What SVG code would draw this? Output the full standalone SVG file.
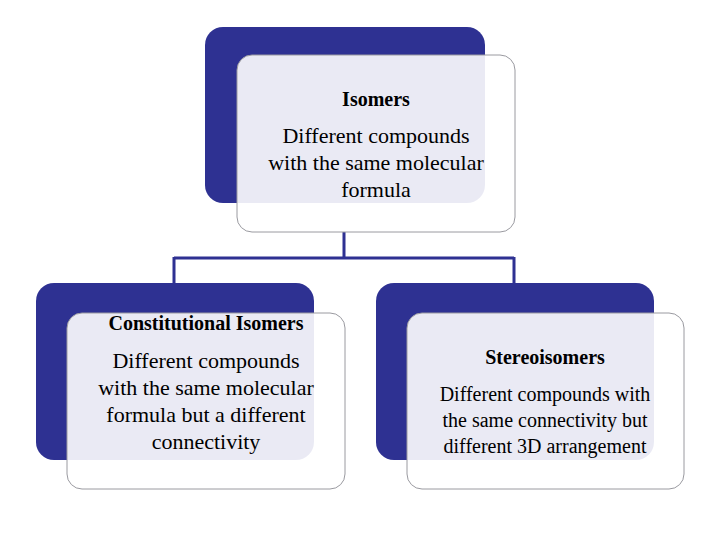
<svg xmlns="http://www.w3.org/2000/svg" width="720" height="540" viewBox="0 0 720 540">
<style>
.bk{fill:#2e3192}
.fr{fill:#fff;fill-opacity:0.9;stroke:#9a9aa0;stroke-width:1}
text{font-family:"Liberation Serif",serif;fill:#000;text-anchor:middle}
.t{font-weight:bold;font-size:20px}
.b{font-size:22px}
.s{font-size:20px}
</style>
<rect width="720" height="540" fill="#fff"/>
<g id="connectors" fill="none" stroke="#2e3192" stroke-width="3">
<path d="M344 232V258M174 258H514M174 257V285M514 257V285"/>
</g>
<g id="isomers">
<rect class="bk" x="205" y="27" width="280" height="176" rx="18"/>
<rect class="fr" x="237" y="55" width="278" height="177" rx="15"/>
<text class="t" x="376" y="106">Isomers</text>
<text class="b" x="376" y="143">Different compounds</text>
<text class="b" x="376" y="170">with the same molecular</text>
<text class="b" x="376" y="197">formula</text>
</g>
<g id="constitutional">
<rect class="bk" x="36" y="283" width="278" height="177" rx="18"/>
<rect class="fr" x="67" y="313" width="278" height="176" rx="15"/>
<text class="t" x="206" y="330">Constitutional Isomers</text>
<text class="b" x="206" y="368">Different compounds</text>
<text class="b" x="206" y="395">with the same molecular</text>
<text class="b" x="206" y="422">formula but a different</text>
<text class="b" x="206" y="449">connectivity</text>
</g>
<g id="stereoisomers">
<rect class="bk" x="376" y="283" width="278" height="177" rx="18"/>
<rect class="fr" x="407" y="313" width="277" height="176" rx="15"/>
<text class="t" x="545" y="364">Stereoisomers</text>
<text class="s" x="545" y="401">Different compounds with</text>
<text class="s" x="545" y="427">the same connectivity but</text>
<text class="s" x="545" y="453">different 3D arrangement</text>
</g>
</svg>
